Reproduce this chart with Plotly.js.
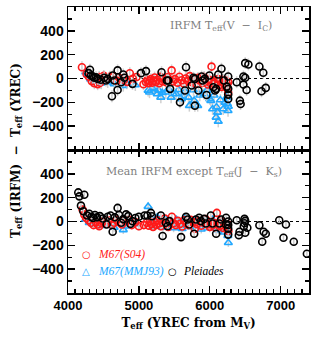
<!DOCTYPE html>
<html><head><meta charset="utf-8">
<script src="https://cdn.plot.ly/plotly-3.0.1.min.js"></script>
<style>html,body{margin:0;padding:0;background:#fff}#chart{width:319px;height:340px}</style>
</head><body><div id="chart"></div>
<script>
// ---- Top panel: IRFM Teff(V - Ic) - Teff(YREC) ----
const topS04T = [4197,4262,4295,4335,4372,4418,4440,4452,4505,4548,4590,4640,4688,4725,4790,4835,4872,4915,4968,5065,5098,5118,5136,5152,5170,5188,5205,5222,5240,5262,5285,5300,5328,5352,5378,5402,5430,5462,5480,5510,5545,5572,5605,5632,5660,5690,5718,5745,5770,5800,5835,5862,5890,5920,5948,5975,5995,6012,6025,6035,6052,6068,6085,6100,6118,6135,6150,6168,6185,6200,6215,6230,6245,6255,6260,6262];
const topS04D = [95,38,15,-22,-40,-48,12,-35,22,-8,14,20,-18,4,-12,-28,44,-2,12,-48,-30,-12,-40,-22,-5,-35,-18,8,-28,-10,-40,14,-22,-5,-30,10,-12,68,-25,-5,-35,15,-15,-42,0,-20,20,-30,-8,-45,5,-20,-38,12,-25,-50,-10,-40,100,-22,-60,-15,-45,-30,-5,-55,-25,-70,-10,-40,-65,-20,-50,-85,-118,-30];
const topMMJT = [4250,4275,4320,4400,4470,4560,4650,4780,4830,4950,5130,5150,5190,5215,5260,5280,5310,5330,5380,5420,5455,5485,5525,5560,5600,5615,5650,5700,5712,5770,5780,5830,5860,5920,5960,6000,6015,6040,6060,6090,6095,6110,6120,6150,6190,6215,6235,6250,6258,6262];
const topMMJD = [55,30,-5,-25,-40,-30,-45,-60,-40,-55,-100,-115,-75,-88,-130,-100,-158,-120,-115,-90,-158,-128,-130,-95,-171,-150,-110,-158,-228,-96,-186,-228,-140,-129,-100,-171,-186,-256,-140,-326,-240,-284,-360,-180,-256,-200,-160,-214,-270,-235];
const topPleT = [4310,4290,4325,4350,4370,4395,4420,4465,4510,4535,4560,4620,4630,4655,4700,4700,4750,4780,4795,4910,5030,5100,5320,5395,5415,5440,5580,5650,5665,5745,5770,5790,5790,5840,5885,5900,5930,5955,5995,6050,6075,6090,6120,6165,6200,6240,6260,6260,6260,6260,6380,6425,6435,6475,6500,6475,6500,6545,6520,6700,6730,6790,6755];
const topPleD = [73,45,25,17,6,11,-3,-11,6,-17,-3,-149,25,-17,68,-96,-31,34,6,-45,45,62,53,-17,-17,-87,-200,-101,95,-59,6,-3,-228,-101,17,-17,-3,-138,25,-73,-101,-87,34,82,-17,-68,-87,-135,-171,17,-31,-186,-214,17,6,-51,129,118,-96,101,-107,-79,48];

// ---- Bottom panel: mean IRFM except Teff(J - Ks) - Teff(YREC) ----
const botS04T = [4205,4230,4255,4290,4325,4360,4395,4420,4440,4475,4490,4540,4580,4620,4650,4690,4720,4760,4790,4860,4900,4950,5000,5070,5110,5140,5160,5180,5200,5225,5245,5265,5290,5310,5340,5365,5390,5415,5440,5465,5490,5520,5550,5580,5610,5640,5670,5700,5730,5760,5790,5820,5850,5880,5910,5940,5970,6000,6020,6040,6060,6080,6100,6115,6135,6150,6170,6190,6210,6230,6245,6255,6262];
const botS04D = [100,58,31,10,-11,-30,-5,-25,-39,-15,0,-20,10,-30,-10,15,-5,-25,10,15,-30,-5,-40,-30,-10,-35,0,-20,-45,-5,-28,10,-15,-40,-8,25,-20,-45,0,40,-15,-30,5,-20,-42,10,-15,-30,15,-5,-60,-22,5,-35,-10,20,-25,-45,0,-30,-12,-50,72,-20,-40,5,-30,-55,-15,-40,-65,-25,-80];
const botMMJT = [4250,4300,4400,4470,4560,4650,4780,4820,4950,5130,5150,5190,5220,5260,5300,5340,5380,5420,5455,5490,5530,5570,5610,5650,5700,5740,5790,5830,5880,5920,5960,6000,6040,6080,6120,6160,6205,6230,6255,6262];
const botMMJD = [20,-10,-25,-35,-15,-50,-70,-40,-20,125,-20,10,-40,35,-5,-50,20,-30,5,-55,15,-20,-60,25,-10,-45,5,-35,-65,10,-30,-55,15,-40,-70,-20,-90,-45,-120,-178];
const botPleT = [4145,4160,4230,4183,4216,4270,4300,4330,4350,4380,4410,4450,4490,4545,4560,4600,4630,4660,4700,4720,4750,4780,4820,4850,4880,4910,4950,5000,5080,5120,5170,5185,5310,5335,5380,5405,5430,5595,5665,5690,5710,5780,5805,5850,5875,5920,5945,6015,6040,6090,6135,6160,6230,6230,6260,6260,6260,6260,6380,6490,6500,6490,6480,6530,6420,6410,6500,6700,6760,6790,6740,6980,7075,7040,7185,7370];
const botPleD = [244,211,225,133,86,50,65,40,30,55,35,45,25,-25,40,50,-86,35,114,55,-10,20,60,45,-20,3,30,40,50,50,72,44,50,-122,-11,-39,3,-131,39,17,-25,-103,17,31,3,22,-17,50,-17,-103,-17,17,31,-25,0,-30,-60,-110,11,22,5,-15,-40,-53,-86,-116,-94,-31,-86,-103,-170,11,-25,-136,-170,-270];

// legend labels
const legendNames = ['M67(S04)', 'M67(MMJ93)', 'Pleiades'];

const ERR_TOP = 50, ERR_BOT = 35;
const RED = '#ff1a1a', BLUE = '#22a8ff', BLACK = '#000000';

function tr(x, y, xa, ya, color, symbol, err, name) {
  return {
    type: 'scatter', mode: 'markers', x: x, y: y, xaxis: xa, yaxis: ya,
    name: name, showlegend: false,
    marker: {symbol: symbol, size: 7, color: color, line: {color: color, width: 1.6}},
    error_y: {type: 'constant', value: err, color: '#cfcfcf', thickness: 1.5, width: 0},
    hoverinfo: 'skip'
  };
}

const data = [
  tr(topMMJT, topMMJD, 'x2', 'y2', BLUE, 'triangle-up-open', ERR_TOP, legendNames[1]),
  tr(topS04T, topS04D, 'x2', 'y2', RED, 'circle-open', ERR_TOP, legendNames[0]),
  tr(topPleT, topPleD, 'x2', 'y2', BLACK, 'circle-open', ERR_TOP, legendNames[2]),
  tr(botMMJT, botMMJD, 'x', 'y', BLUE, 'triangle-up-open', ERR_BOT, legendNames[1]),
  tr(botS04T, botS04D, 'x', 'y', RED, 'circle-open', ERR_BOT, legendNames[0]),
  tr(botPleT, botPleD, 'x', 'y', BLACK, 'circle-open', ERR_BOT, legendNames[2])
];

const tickFont = {family: 'Liberation Sans, Arial, sans-serif', size: 13, color: '#000', weight: 'bold'};
const ytickFont = {family: 'Liberation Sans, Arial, sans-serif', size: 14, color: '#000', weight: 'bold'};
const minorX = {tickmode: 'linear', tick0: 4000, dtick: 100, ticks: 'inside', ticklen: 4, tickcolor: '#000', tickwidth: 1.2};
const minorY = {tickmode: 'linear', tick0: 0, dtick: 100, ticks: 'inside', ticklen: 4, tickcolor: '#000', tickwidth: 1.2};
function xax(extra) {
  return Object.assign({
    range: [4000, 7400], tickmode: 'linear', tick0: 4000, dtick: 1000,
    ticks: 'inside', ticklen: 7, tickwidth: 1.4, tickcolor: '#000',
    showline: true, linewidth: 1.5, linecolor: '#000', mirror: 'allticks',
    showgrid: false, zeroline: false, minor: minorX, tickfont: tickFont, automargin: false
  }, extra);
}
function yax(extra) {
  return Object.assign({
    range: [-600, 600], tickmode: 'array', tickvals: [-400, -200, 0, 200, 400],
    ticks: 'inside', ticklen: 7, tickwidth: 1.4, tickcolor: '#000',
    showline: true, linewidth: 1.5, linecolor: '#000', mirror: 'allticks',
    showgrid: false, zeroline: false, minor: minorY, tickfont: ytickFont, automargin: false
  }, extra);
}

const symFont = (c) => ({family: 'DejaVu Sans, sans-serif', size: 10, color: c, weight: 'bold'});
const legTextFont = (c) => ({family: 'Liberation Serif, Times New Roman, serif', size: 11.5, color: c, style: 'italic'});
function legEntry(xs, xt, y, glyph, label, color) {
  return [
    {xref: 'paper', yref: 'paper', x: xs, y: y, xanchor: 'center', yanchor: 'middle', showarrow: false, text: glyph, font: symFont(color)},
    {xref: 'paper', yref: 'paper', x: xt, y: y, xanchor: 'left', yanchor: 'middle', showarrow: false, text: '<i>' + label + '</i>', font: legTextFont(color)}
  ];
}

const layout = {
  width: 319, height: 340,
  margin: {l: 68, r: 10, t: 7, b: 47},
  paper_bgcolor: '#fff', plot_bgcolor: '#fff',
  showlegend: false,
  xaxis: xax({anchor: 'y', domain: [0, 1],
    title: {text: 'T<sub>eff</sub> (YREC from M<sub>V</sub>)', standoff: 6,
      font: {family: 'DejaVu Serif, serif', size: 12, color: '#000', weight: 'bold'}}}),
  xaxis2: xax({anchor: 'y2', matches: 'x', showticklabels: false, domain: [0, 1]}),
  yaxis: yax({anchor: 'x', domain: [0, 0.5]}),
  yaxis2: yax({anchor: 'x2', domain: [0.5, 1]}),
  shapes: [
    {type: 'line', xref: 'x domain', x0: 0, x1: 1, yref: 'y', y0: 0, y1: 0, layer: 'below', line: {color: '#000', width: 1.2, dash: 'dot'}},
    {type: 'line', xref: 'x2 domain', x0: 0, x1: 1, yref: 'y2', y0: 0, y1: 0, layer: 'below', line: {color: '#000', width: 1.2, dash: 'dot'}}
  ],
  annotations: [
    {xref: 'paper', yref: 'paper', x: 0.415, y: 0.934, xanchor: 'left', yanchor: 'middle', showarrow: false,
      text: 'IRFM T<sub>eff</sub>(V  −  I<sub>C</sub>)', font: {family: 'DejaVu Serif, serif', size: 11, color: '#808080'}},
    {xref: 'paper', yref: 'paper', x: 0.149, y: 0.423, xanchor: 'left', yanchor: 'middle', showarrow: false,
      text: 'Mean IRFM except T<sub>eff</sub>(J  −  K<sub>s</sub>)', font: {family: 'DejaVu Serif, serif', size: 11, color: '#808080'}},
    {xref: 'paper', yref: 'paper', x: -0.212, y: 0.5, xanchor: 'center', yanchor: 'middle', showarrow: false, textangle: -90,
      text: 'T<sub>eff</sub> (IRFM)  −  T<sub>eff</sub> (YREC)', font: {family: 'DejaVu Serif, serif', size: 12, color: '#000', weight: 'bold'}}
  ].concat(
    legEntry(0.0747, 0.116, 0.1329, '○', legendNames[0], RED),
    legEntry(0.0747, 0.116, 0.0769, '△', legendNames[1], BLUE),
    legEntry(0.432, 0.469, 0.0769, '○', legendNames[2], BLACK)
  )
};

Plotly.newPlot('chart', data, layout, {displayModeBar: false, staticPlot: true});
</script>
</body></html>
